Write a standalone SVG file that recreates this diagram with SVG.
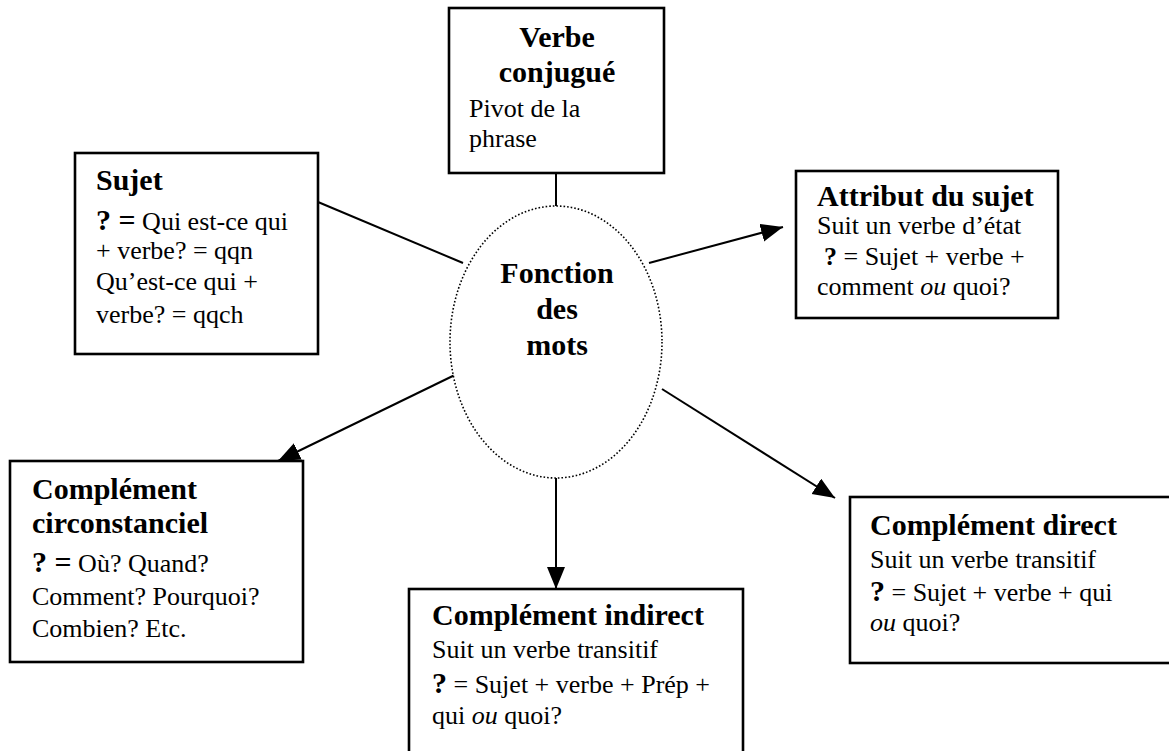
<svg xmlns="http://www.w3.org/2000/svg" width="1169" height="751" viewBox="0 0 1169 751">
<style>
text{font-family:"Liberation Serif","Times New Roman",serif;fill:#000}
.t{font-size:30px;font-weight:bold}
.r{font-size:26px}
.q{font-size:30px;font-weight:bold}
.box{fill:#fff;stroke:#000;stroke-width:2.6}
.ln{stroke:#000;stroke-width:2;fill:none}
.i{font-style:italic}
</style>
<defs>
<marker id="ah" markerUnits="userSpaceOnUse" markerWidth="24" markerHeight="20" refX="22" refY="9" orient="auto">
<path d="M0,0 L22,9 L0,18 z" fill="#000"/>
</marker>
</defs>
<rect width="1169" height="751" fill="#fff"/>
<g id="connectors">
<line class="ln" x1="556" y1="173" x2="556" y2="206"/>
<line class="ln" x1="318" y1="202" x2="463" y2="263"/>
<line class="ln" x1="649" y1="263" x2="783" y2="227" marker-end="url(#ah)"/>
<line class="ln" x1="463" y1="371" x2="278" y2="461" marker-end="url(#ah)"/>
<line class="ln" x1="662" y1="389" x2="835" y2="498" marker-end="url(#ah)"/>
<line class="ln" x1="556" y1="478" x2="556" y2="589" marker-end="url(#ah)"/>
</g>
<g id="verbe">
<rect class="box" x="449" y="8" width="215" height="165"/>
<text class="t" x="557" y="47" text-anchor="middle">Verbe</text>
<text class="t" x="557" y="82" text-anchor="middle">conjugué</text>
<text class="r" x="469" y="117">Pivot de la</text>
<text class="r" x="469" y="147">phrase</text>
</g>
<g id="sujet">
<rect class="box" x="75" y="153" width="243" height="201"/>
<text class="t" x="96" y="190">Sujet</text>
<text class="r" x="96" y="230"><tspan class="q">? =</tspan> Qui est-ce qui</text>
<text class="r" x="96" y="259">+ verbe? = qqn</text>
<text class="r" x="96" y="290">Qu’est-ce qui +</text>
<text class="r" x="96" y="323">verbe? = qqch</text>
</g>
<g id="fonction">
<ellipse cx="556" cy="342" rx="106" ry="136" fill="#fff" stroke="#000" stroke-width="1.6" stroke-dasharray="1.6 2"/>
<text class="t" x="557" y="283" text-anchor="middle">Fonction</text>
<text class="t" x="557" y="319" text-anchor="middle">des</text>
<text class="t" x="557" y="355" text-anchor="middle">mots</text>
</g>
<g id="attribut">
<rect class="box" x="796" y="171" width="262" height="147"/>
<text class="t" x="817" y="206">Attribut du sujet</text>
<text class="r" x="817" y="234">Suit un verbe d’état</text>
<text class="r" x="824" y="265"><tspan font-weight="bold">?</tspan> = Sujet + verbe +</text>
<text class="r" x="817" y="295">comment <tspan class="i">ou</tspan> quoi?</text>
</g>
<g id="circonstanciel">
<rect class="box" x="10" y="461" width="293" height="201"/>
<text class="t" x="32" y="499">Complément</text>
<text class="t" x="32" y="533">circonstanciel</text>
<text class="r" x="32" y="572"><tspan class="q">? =</tspan> Où? Quand?</text>
<text class="r" x="32" y="605">Comment? Pourquoi?</text>
<text class="r" x="32" y="637">Combien? Etc.</text>
</g>
<g id="indirect">
<rect class="box" x="409" y="589" width="334" height="175"/>
<text class="t" x="432" y="625">Complément indirect</text>
<text class="r" x="432" y="658">Suit un verbe transitif</text>
<text class="r" x="432" y="693"><tspan class="q">?</tspan> = Sujet + verbe + Prép +</text>
<text class="r" x="432" y="724">qui <tspan class="i">ou</tspan> quoi?</text>
</g>
<g id="direct">
<rect class="box" x="850" y="497" width="330" height="166"/>
<text class="t" x="870" y="535">Complément direct</text>
<text class="r" x="870" y="568">Suit un verbe transitif</text>
<text class="r" x="870" y="601"><tspan class="q">?</tspan> = Sujet + verbe + qui</text>
<text class="r" x="870" y="631"><tspan class="i">ou</tspan> quoi?</text>
</g>
</svg>
